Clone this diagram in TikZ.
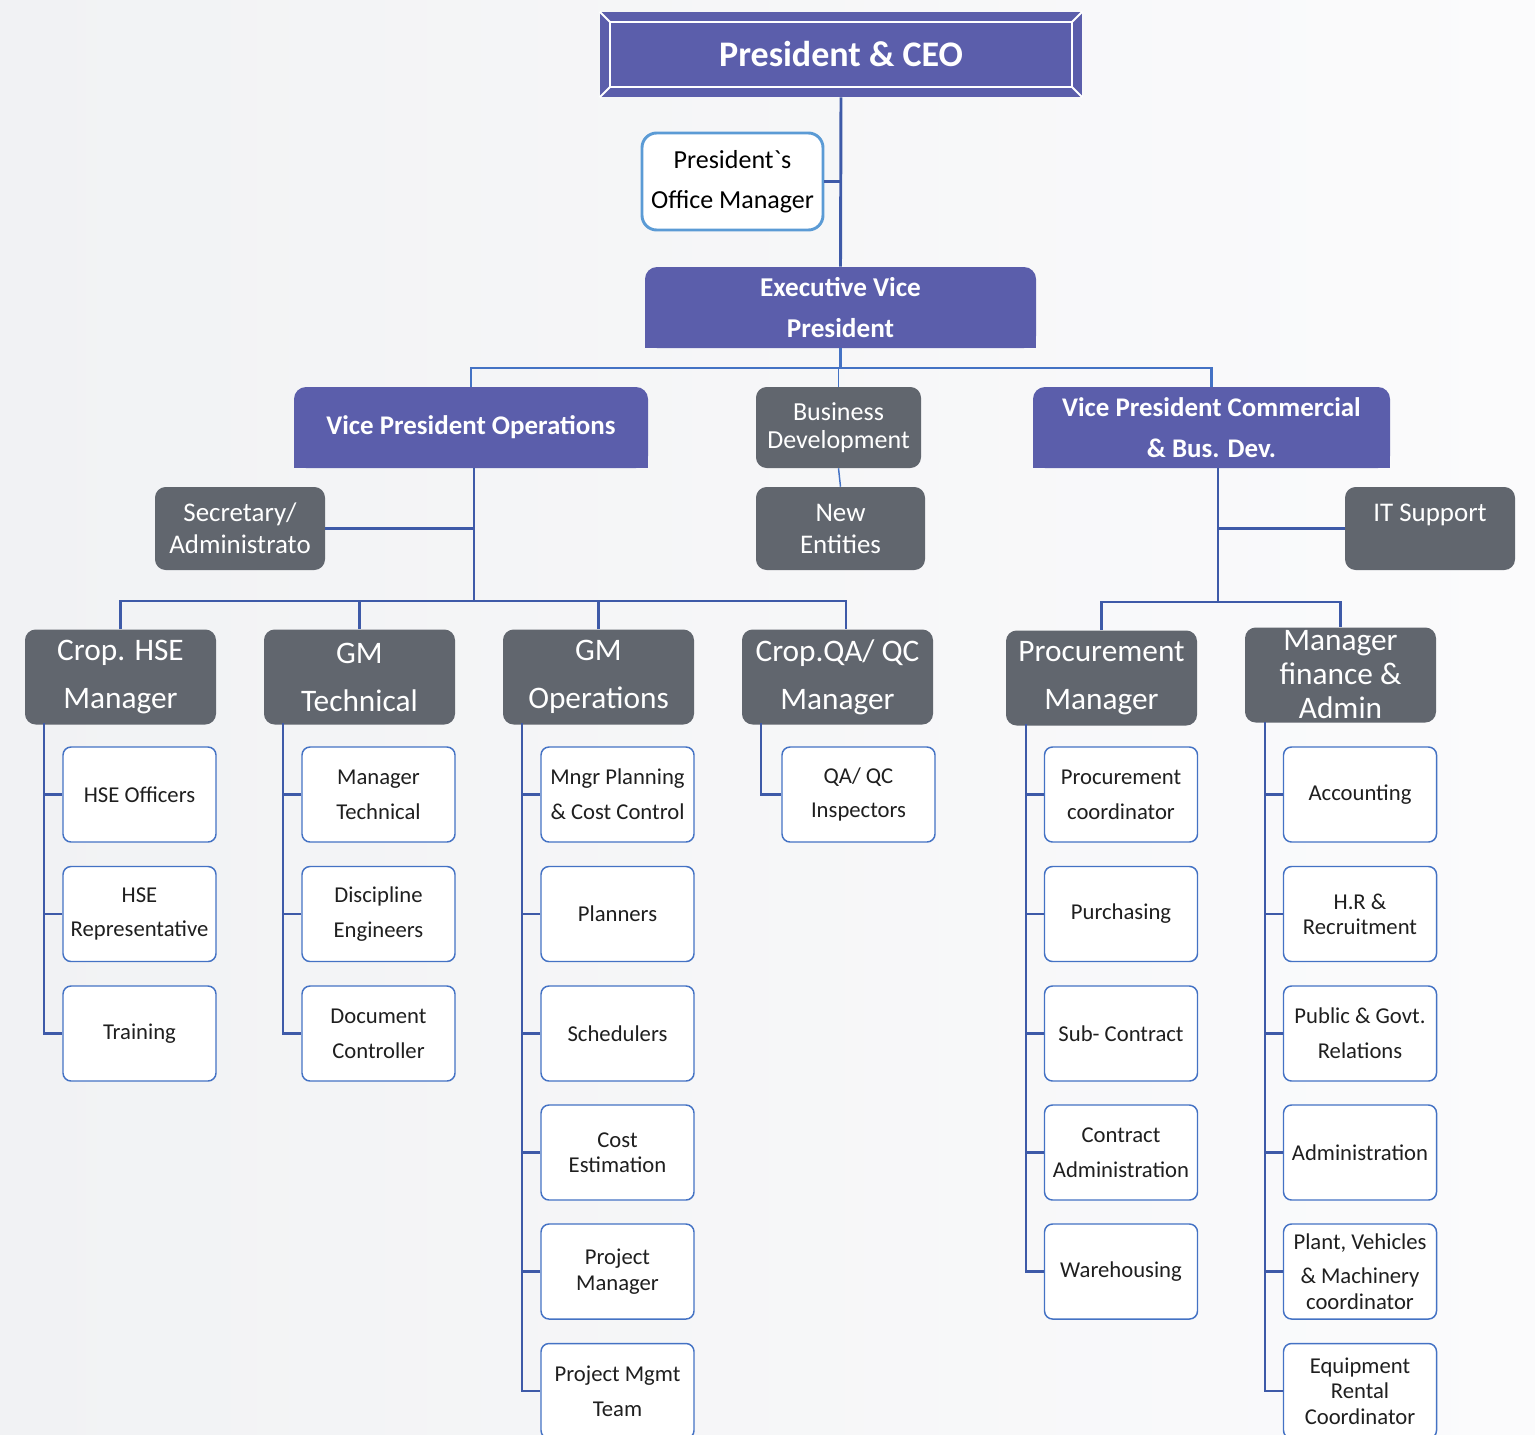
\documentclass[tikz,border=0pt]{standalone}
\usepackage{fontspec}
\setmainfont{Carlito}
\newfontfamily\rawfont{Carlito}
\usetikzlibrary{positioning,backgrounds}

\definecolor{chartpurple}{RGB}{91,94,171}
\definecolor{chartgrey}{RGB}{97,102,110}
\definecolor{treeblue}{RGB}{62,90,168}
\definecolor{linkblue}{RGB}{68,114,196}
\definecolor{omblue}{RGB}{91,155,213}
\definecolor{bgleft}{RGB}{241,242,244}
\definecolor{bgright}{RGB}{251,251,252}

\tikzset{
  purplebox/.style={fill=chartpurple, text=white, rounded corners=9pt, inner sep=0pt, align=center},
  greybox/.style={fill=chartgrey, text=white, rounded corners=8pt, inner sep=0pt, align=center},
  headbox/.style={greybox, minimum width=143.25pt, minimum height=71.25pt, font=\fontsize{23.5}{36}\selectfont},
  childbox/.style={draw=linkblue, line width=1.1pt, fill=white, rounded corners=6pt, minimum width=114.75pt, minimum height=71.25pt, inner sep=0pt, align=center, text=black!88, font=\fontsize{17}{26}\selectfont},
  tight/.style={font=\fontsize{17}{19}\selectfont},
  tree/.style={draw=treeblue, line width=2.2pt},
  link/.style={draw=linkblue, line width=1.9pt},
  thinlink/.style={draw=linkblue, line width=1.1pt},
}

\begin{document}
\begin{tikzpicture}[x=0.75pt,y=0.75pt,yscale=-1,xscale=1]
\useasboundingbox (0,0) rectangle (1535,1435);

% top of the chart
\node [fill=chartpurple, text=white, minimum width=361.5pt, minimum height=63.75pt, inner sep=0pt, font=\fontsize{27}{30}\bfseries] (ceo) at (841,54.5) {President \& CEO};
\draw [white, line width=1.5pt] (610,22) rectangle (1072,87);
\draw [white, line width=1.5pt] (ceo.north west) -- (610,22) (ceo.north east) -- (1072,22) (ceo.south west) -- (610,87) (ceo.south east) -- (1072,87);

\node [draw=omblue, line width=2.2pt, fill=white, rounded corners=11pt, minimum width=135.75pt, minimum height=72.75pt, inner sep=0pt, align=center, font=\fontsize{19.5}{30}\selectfont] (om) at (732.5,181.5) {President{\rawfont`}s\\Office Manager};

\node [purplebox, minimum width=293.25pt, minimum height=60.75pt, font=\fontsize{20.4}{31}\bfseries] (evp) at (840.5,307.5) {Executive Vice\\President};

% second row
\node [purplebox, minimum width=265.5pt, minimum height=60.75pt, font=\fontsize{20.2}{31}\bfseries] (vpo) at (471,427.5) {Vice President Operations};
\node [greybox, minimum width=123.75pt, minimum height=60.75pt, font=\fontsize{19.5}{21}\selectfont] (bd) at (838.5,427.5) {Business\\Development};
\node [purplebox, minimum width=267.75pt, minimum height=60.75pt, font=\fontsize{20.2}{31}\bfseries] (vpc) at (1211.5,427.5) {Vice President Commercial\\\& Bus. Dev.};

\node [greybox, minimum width=127.5pt, minimum height=62.25pt, font=\fontsize{20.2}{24}\selectfont] (sec) at (240,528.5) {Secretary/\\Administrato};
\node [greybox, minimum width=126.75pt, minimum height=62.25pt, font=\fontsize{20.2}{24}\selectfont] (ne) at (840.5,528.5) {New\\Entities};
\node [greybox, minimum width=127.5pt, minimum height=62.25pt, font=\fontsize{20.2}{24}\selectfont] (it) at (1430,528.5) {IT Support\\~};

% managers
\node [headbox] (hse) at (120.5,677) {Crop. HSE\\Manager};
\node [headbox] (gmt) at (359.5,677) {GM\\Technical};
\node [headbox] (gmo) at (598.5,677) {GM\\Operations};
\node [headbox] (qa) at (837.5,677) {Crop.QA/ QC\\Manager};
\node [headbox] (pm) at (1101.5,678) {Procurement\\Manager};
\node [headbox, font=\fontsize{23.5}{25.5}\selectfont] (fin) at (1340.5,675) {Manager\\finance \&\\Admin};

% HSE staff
\node [childbox] (hse1) at (139.5,794.5) {HSE Officers};
\node [childbox] (hse2) at (139.5,914) {HSE\\Representative};
\node [childbox] (hse3) at (139.5,1033.5) {Training};

% technical staff
\node [childbox] (gmt1) at (378.5,794.5) {Manager\\Technical};
\node [childbox] (gmt2) at (378.5,914) {Discipline\\Engineers};
\node [childbox] (gmt3) at (378.5,1033.5) {Document\\Controller};

% operations staff
\node [childbox] (gmo1) at (617.5,794.5) {Mngr Planning\\\& Cost Control};
\node [childbox] (gmo2) at (617.5,914) {Planners};
\node [childbox] (gmo3) at (617.5,1033.5) {Schedulers};
\node [childbox, tight] (gmo4) at (617.5,1152.5) {Cost\\Estimation};
\node [childbox, tight] (gmo5) at (617.5,1271.5) {Project\\Manager};
\node [childbox] (gmo6) at (617.5,1391) {Project Mgmt\\Team};

% QA/QC staff
\node [childbox] (qa1) at (858.5,794.5) {QA/ QC\\Inspectors};

% procurement staff
\node [childbox] (pm1) at (1121,794.5) {Procurement\\coordinator};
\node [childbox] (pm2) at (1121,914) {Purchasing};
\node [childbox] (pm3) at (1121,1033.5) {Sub- Contract};
\node [childbox] (pm4) at (1121,1152.5) {Contract\\Administration};
\node [childbox] (pm5) at (1121,1271.5) {Warehousing};

% finance staff
\node [childbox] (fin1) at (1360,794.5) {Accounting};
\node [childbox, tight] (fin2) at (1360,914) {H.R \&\\Recruitment};
\node [childbox] (fin3) at (1360,1033.5) {Public \& Govt.\\Relations};
\node [childbox] (fin4) at (1360,1152.5) {Administration};
\node [childbox, tight] (fin5) at (1360,1271.5) {Plant, Vehicles\\[7pt]\& Machinery\\coordinator};
\node [childbox, tight] (fin6) at (1360,1391) {Equipment\\Rental\\Coordinator};

% connectors
\draw [tree] (ceo.south) -- (evp.north);
\draw [tree] (om.east) -- (om.east -| ceo.south);

\coordinate (evpbus) at (840.5,368);
\draw [link] (evp.south) -- (evpbus);
\draw [link] (vpo.north) |- (evpbus) -| (vpc.north);
\draw [thinlink] (bd.north) -- (bd.north |- evpbus);
\draw [thinlink] (bd.south) -- (ne.north);

\coordinate (opsbus) at (474,601);
\coordinate (qadrop) at (846,601);
\draw [tree] (vpo.south -| opsbus) -- (opsbus);
\draw [tree] (sec.east) -- (sec.east -| opsbus);
\draw [tree] (hse.north) |- (opsbus) -- (qadrop) -- (qadrop |- qa.north);
\draw [tree] (gmt.north) -- (gmt.north |- opsbus);
\draw [tree] (gmo.north) -- (gmo.north |- opsbus);

\coordinate (combus) at (1218,602);
\draw [tree] (vpc.south -| combus) -- (combus);
\draw [tree] (it.west) -- (it.west -| combus);
\draw [tree] (pm.north) |- (combus) -| (fin.north);

% staff stems
\coordinate (hsestem) at (44,723);
\coordinate (gmtstem) at (283,723);
\coordinate (gmostem) at (522,723);
\coordinate (qastem) at (761,723);
\coordinate (pmstem) at (1026,724);
\coordinate (finstem) at (1265,722);
\draw [tree] (hsestem) |- (hse3.west);
\draw [tree] (gmtstem) |- (gmt3.west);
\draw [tree] (gmostem) |- (gmo6.west);
\draw [tree] (qastem) |- (qa1.west);
\draw [tree] (pmstem) |- (pm5.west);
\draw [tree] (finstem) |- (fin6.west);
\foreach \i in {1,2} {
  \draw [tree] (hse\i.west) -- (hse\i.west -| hsestem);
  \draw [tree] (gmt\i.west) -- (gmt\i.west -| gmtstem);
}
\foreach \i in {1,...,5} {
  \draw [tree] (gmo\i.west) -- (gmo\i.west -| gmostem);
  \draw [tree] (fin\i.west) -- (fin\i.west -| finstem);
}
\foreach \i in {1,...,4}
  \draw [tree] (pm\i.west) -- (pm\i.west -| pmstem);

% page and square lower corners
\begin{scope}[on background layer]
\shade [left color=bgleft, right color=bgright] (0,0) rectangle (1535,1435);
\fill [chartpurple] (evp.west) rectangle (evp.south east);
\fill [chartpurple] (vpo.west) rectangle (vpo.south east);
\fill [chartpurple] (vpc.west) rectangle (vpc.south east);
\end{scope}

\end{tikzpicture}
\end{document}
